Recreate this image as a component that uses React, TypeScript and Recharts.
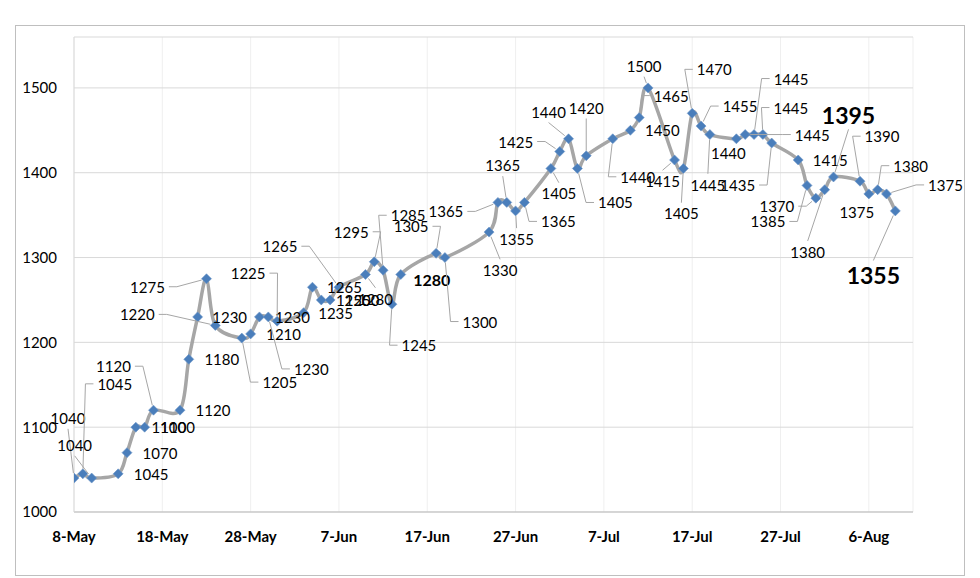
import React from 'react';
import { LineChart, Line, XAxis, YAxis, CartesianGrid, LabelList } from 'recharts';

// days after 8-May
const days = [0, 1, 2, 5, 6, 7, 8, 9, 12, 13, 14, 15, 16, 19, 20, 21, 22, 23, 26, 27, 28, 29, 30, 33, 34, 35, 36, 37, 41, 42, 47, 48, 49, 50, 51, 54, 55, 56, 57, 58, 61, 63, 64, 65, 68, 69, 70, 71, 72, 75, 76, 77, 78, 79, 82, 83, 84, 85, 86, 89, 90, 91, 92, 93];
const prices = [1040, 1045, 1040, 1045, 1070, 1100, 1100, 1120, 1120, 1180, 1230, 1275, 1220, 1205, 1210, 1230, 1230, 1225, 1235, 1265, 1250, 1250, 1265, 1280, 1295, 1285, 1245, 1280, 1305, 1300, 1330, 1365, 1365, 1355, 1365, 1405, 1425, 1440, 1405, 1420, 1440, 1450, 1465, 1500, 1415, 1405, 1470, 1455, 1445, 1440, 1445, 1445, 1445, 1435, 1415, 1385, 1370, 1380, 1395, 1390, 1375, 1380, 1375, 1355];
const xTickValues = [0, 10, 20, 30, 40, 50, 60, 70, 80, 90];
const xTickLabels = ['8-May', '18-May', '28-May', '7-Jun', '17-Jun', '27-Jun', '7-Jul', '17-Jul', '27-Jul', '6-Aug'];
const yTicks = [1000, 1100, 1200, 1300, 1400, 1500];

// label placement: [dx, dy, leader, style]
const labelPlacement: number[][] = [
  [-6, -60, 1, 0], [32, -90, 1, 0], [-17, -33, 1, 0], [33, 0, 0, 0], [33, 0, 0, 0], [33, 0, 0, 0], [33, 0, 0, 0], [-40, -44, 1, 0],
  [33, 0, 0, 0], [33, 0, 0, 0], [32, 0, 0, 0], [-59, 8, 1, 0], [-78, -11, 1, 0],
  [38, 44, 1, 0], [33, 0, 0, 0], [33, 0, 0, 0], [43, 52, 1, 0], [-29, -48, 1, 0],
  [32, 0, 0, 0], [32, 0, 0, 0], [32, 0, 0, 0], [32, 0, 0, 0], [-59, -41, 1, 0],
  [10, 24, 1, 0], [-23, -30, 1, 0], [25, -55, 1, 0], [27, 41, 1, 0], [31, 5, 0, 1],
  [-25, -27, 1, 0], [35, 64, 1, 0],
  [11, 38, 1, 0], [-52, 9, 1, 0], [-4, -37, 1, 0], [1, 28, 1, 0], [34, 19, 1, 0],
  [8, 25, 1, 0], [-44, -10, 1, 0], [-20, -27, 1, 0], [38, 34, 1, 0], [0, -48, 1, 0],
  [25, 38, 1, 0],
  [32, 0, 0, 0], [32, -22, 1, 0], [-4, -22, 1, 0],
  [-12, 21, 1, 0], [-2, 45, 1, 0], [22, -44, 1, 0], [39, -20, 1, 0], [-2, 50, 1, 0],
  [-8, 14, 0, 0], [67, 0, 1, 0], [37, -56, 1, 0], [28, -27, 1, 0], [-34, 42, 1, 0],
  [32, 0, 0, 0], [-39, 36, 1, 0], [-39, 8, 1, 0], [-17, 62, 1, 0], [15, -62, 1, 2],
  [22, -45, 1, 0], [-12, 18, 0, 0], [33, -24, 1, 0], [59, -9, 1, 0], [-22, 64, 1, 2],
];

const data = days.map((d, i) => ({ day: d, price: prices[i] }));

const FONT = 'Lato, "Open Sans", sans-serif';
const LEADER = '#A6A6A6';

// Excel-like smoothed curve (Catmull-Rom style bezier)
const excelCurve: any = (context: any) => {
  let pts: number[][] = [];
  return {
    areaStart() {},
    areaEnd() {},
    lineStart() { pts = []; },
    point(x: number, y: number) { pts.push([+x, +y]); },
    lineEnd() {
      if (!pts.length) return;
      context.moveTo(pts[0][0], pts[0][1]);
      for (let i = 0; i < pts.length - 1; i++) {
        const p0 = pts[i - 1] || pts[i];
        const p1 = pts[i];
        const p2 = pts[i + 1];
        const p3 = pts[i + 2] || p2;
        context.bezierCurveTo(
          p1[0] + (p2[0] - p0[0]) / 6, p1[1] + (p2[1] - p0[1]) / 6,
          p2[0] - (p3[0] - p1[0]) / 6, p2[1] - (p3[1] - p1[1]) / 6,
          p2[0], p2[1]
        );
      }
    },
  };
};

const Diamond = (props: any) => {
  const { cx, cy, index } = props;
  if (cx == null || cy == null) return <g key={`d${index}`} />;
  const r = 5;
  return (
    <path
      key={`d${index}`}
      d={`M${cx},${cy - r}L${cx + r},${cy}L${cx},${cy + r}L${cx - r},${cy}Z`}
      fill="#4A7EBB"
      stroke="#6E97C8"
      strokeWidth={0.6}
    />
  );
};

const renderLabel = (props: any) => {
  const vb = props.viewBox || {};
  const px = vb.x ?? props.x;
  const py = vb.y ?? props.y;
  let index = props.index;
  if (index == null && props.payload) index = days.indexOf(props.payload.day);
  if (index == null || px == null || py == null) return null;
  const pl = labelPlacement[index] || [32, 0, 0, 0];
  const [dx, dy, leader, style] = pl;
  const fs = style === 2 ? 23 : style === 1 ? 16 : 15;
  const weight = style > 0 ? 700 : 400;
  const text = String(prices[index]);
  const cx = px + dx;
  const cy = py + dy;
  const hw = (text.length * 0.58 * fs) / 2;
  const hh = fs * 0.45;
  let leaderPath = '';
  if (leader) {
    const endPt = (sx: number, sy: number) => {
      const vx = px - sx;
      const vy = py - sy;
      const len = Math.sqrt(vx * vx + vy * vy) || 1;
      const stop = Math.max(0, len - 5);
      return [sx + (vx / len) * stop, sy + (vy / len) * stop];
    };
    if (Math.abs(dx) > hw + 4) {
      const sgn = dx > 0 ? 1 : -1;
      const sx = cx - sgn * (hw + 4);
      const kx = cx - sgn * (hw + 12);
      const [ex, ey] = endPt(kx, cy);
      leaderPath = `M${sx},${cy}L${kx},${cy}L${ex},${ey}`;
    } else {
      const sgn = dy > 0 ? 1 : -1;
      const sy = cy - sgn * (hh + 4);
      const [ex, ey] = endPt(cx, sy);
      leaderPath = `M${cx},${sy}L${ex},${ey}`;
    }
  }
  return (
    <g key={`l${index}`}>
      {leaderPath && <path d={leaderPath} stroke={LEADER} strokeWidth={1} fill="none" />}
      <text
        x={cx}
        y={cy}
        textAnchor="middle"
        dominantBaseline="central"
        fontFamily={FONT}
        fontSize={fs}
        fontWeight={weight}
        fill="#000"
      >
        {text}
      </text>
    </g>
  );
};

export default function App() {
  return (
    <div style={{ position: 'absolute', left: 0, top: 0, width: 980, height: 578, background: '#fff' }}>
      <div
        style={{
          position: 'absolute',
          left: 15,
          top: 25,
          width: 950,
          height: 551,
          border: '1px solid #BFBFBF',
          boxSizing: 'border-box',
        }}
      />
      <div style={{ position: 'absolute', left: 0, top: 0 }}>
        <LineChart width={980} height={578} data={data} margin={{ top: 37, right: 67, bottom: 36, left: 0 }}>
          <CartesianGrid vertical={true} horizontal={false} stroke="#EFEFEF" />
          <CartesianGrid vertical={false} horizontal={true} stroke="#D9D9D9" />
          <XAxis
            type="number"
            dataKey="day"
            domain={[0, 95]}
            ticks={xTickValues}
            tickFormatter={(v: number) => xTickLabels[xTickValues.indexOf(v)] ?? ''}
            allowDataOverflow
            height={30}
            tickSize={0}
            tickMargin={19}
            axisLine={{ stroke: '#BFBFBF', strokeWidth: 1 }}
            tickLine={false}
            tick={{ fontFamily: FONT, fontSize: 15, fontWeight: 700, fill: '#000' }}
          />
          <YAxis
            type="number"
            domain={[1000, 1560]}
            ticks={yTicks}
            allowDataOverflow
            width={74}
            tickSize={0}
            tickMargin={17}
            axisLine={{ stroke: '#D9D9D9', strokeWidth: 1 }}
            tickLine={false}
            tick={{ fontFamily: FONT, fontSize: 15, fill: '#000' }}
          />
          <Line
            type={excelCurve}
            dataKey="price"
            stroke="#A6A6A6"
            strokeWidth={3.5}
            dot={Diamond}
            activeDot={false}
            isAnimationActive={false}
          >
            <LabelList dataKey="price" content={renderLabel} />
          </Line>
        </LineChart>
      </div>
    </div>
  );
}
